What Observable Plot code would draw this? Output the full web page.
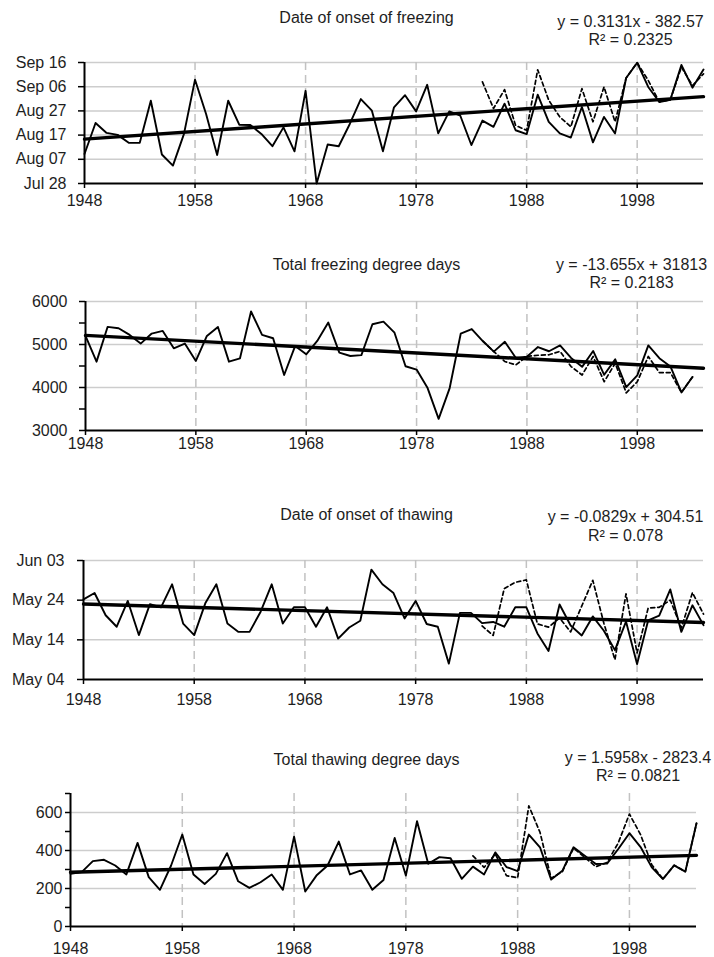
<!DOCTYPE html>
<html><head><meta charset="utf-8">
<script src="https://cdn.jsdelivr.net/npm/d3@7"></script>
<script src="https://cdn.jsdelivr.net/npm/@observablehq/plot@0.6"></script>
<style>
body{margin:0;background:#fff;}
#chart{width:714px;}
#chart svg{display:block;overflow:visible;}
</style></head><body><div id="chart"></div>
<script>
// ---------- shared x categories ----------
const firstYear = 1948;
const lastYear = 2004;
const xTickYears = [1948, 1958, 1968, 1978, 1988, 1998];

// ---------- Panel 1: Date of onset of freezing (day of year) ----------
const freezeTitle = "Date of onset of freezing";
const freezeEq = "y = 0.3131x - 382.57";
const freezeR2 = "R\u00B2 = 0.2325";
const freezeTicks = [209, 219, 229, 239, 249, 259];
const freezeTickLabels = ["Jul 28", "Aug 07", "Aug 17", "Aug 27", "Sep 06", "Sep 16"];
const freezeSolid = [221.2, 234, 229.9, 229.1, 225.8, 225.8, 243.2, 221, 216.4, 229.5,
  251.9, 237.7, 220.8, 243.2, 233.3, 233.2, 229.5, 224.4, 232.2, 222.3,
  247.3, 209, 225.1, 224.4, 233.6, 243.9, 239.1, 222.3, 240.5, 245.5,
  238.8, 249.8, 229.7, 238.8, 237, 224.9, 235, 232.4, 242, 231,
  229.4, 245.7, 234.5, 229.7, 228, 240.6, 226, 236.5, 229.7, 252.6,
  258.9, 248.9, 242.7, 243.6, 258, 248.6, 256.1];
const freezeDashedStart = 1984;
const freezeDashed = [251, 240, 247.8, 233, 231, 256, 243.4, 236.5, 232.4, 248.2,
  234.5, 248.9, 234.5, 252.6, 258.9, 251.6, 242.7, 243.6, 257.1, 249.5, 254.3];
const freezeTrend = [227.35, 244.9];

// ---------- Panel 2: Total freezing degree days ----------
const fddTitle = "Total freezing degree days";
const fddEq = "y = -13.655x + 31813";
const fddR2 = "R\u00B2 = 0.2183";
const fddTicks = [3000, 4000, 5000, 6000];
const fddMinorTicks = [3500, 4500, 5500];
const fddSolid = [5200, 4601, 5409, 5378, 5223, 5021, 5254, 5316, 4912, 5021,
  4617, 5200, 5409, 4601, 4679, 5767, 5223, 5145, 4291, 4966,
  4772, 5083, 5510, 4811, 4733, 4752, 5470, 5532, 5275, 4494,
  4416, 3987, 3270, 3987, 5251, 5360, 5080, 4835, 5062, 4686,
  4718, 4940, 4843, 4980, 4687, 4480, 4850, 4295, 4655, 4010,
  4283, 4980, 4682, 4490, 3885, 4245];
const fddDashedStart = 1984;
const fddDashed = [5080, 4835, 4604, 4526, 4722, 4750, 4761, 4840, 4487, 4291,
  4722, 4134, 4565, 3875, 4134, 4722, 4346, 4346, 3885, 4245];
const fddTrend = [5213.1, 4448.4];

// ---------- Panel 3: Date of onset of thawing (day of year) ----------
const thawTitle = "Date of onset of thawing";
const thawEq = "y = -0.0829x + 304.51";
const thawR2 = "R\u00B2 = 0.078";
const thawTicks = [124, 134, 144, 154];
const thawTickLabels = ["May 04", "May 14", "May 24", "Jun 03"];
const thawSolid = [144.2, 145.8, 140.2, 137.3, 143.8, 135.2, 143, 142.2, 148, 138.1,
  135.2, 143.2, 148, 138.1, 136, 136, 141.1, 148, 138.1, 142.2,
  142.2, 137.3, 142.2, 134.3, 137.1, 138.8, 151.7, 148, 145.8, 139.4,
  143.8, 138, 137.3, 128, 140.8, 140.8, 138.2, 138.5, 137.3, 142.2,
  142.2, 135.6, 131.2, 142.9, 137.6, 135.1, 139.9, 136.3, 131.4, 138.6,
  127.9, 138.9, 140.1, 146.7, 136, 142.7, 137.7];
const thawDashedStart = 1984;
const thawDashed = [137.5, 135.1, 146.9, 148.5, 149.1, 138, 137.2, 139.5, 136, 142.5,
  149, 138.2, 129, 145.6, 130.7, 142, 142.2, 144, 137, 145.9, 140.5];
const thawTrend = [143.02, 138.38];

// ---------- Panel 4: Total thawing degree days ----------
const tddTitle = "Total thawing degree days";
const tddEq = "y = 1.5958x - 2823.4";
const tddR2 = "R\u00B2 = 0.0821";
const tddTicks = [0, 200, 400, 600];
const tddMinorTicks = [100, 300, 500, 700];
const tddSolid = [277, 286, 344, 351, 321, 274, 440, 260, 193, 321,
  484, 274, 224, 277, 386, 238, 203, 233, 274, 193,
  473, 184, 268, 321, 447, 274, 295, 193, 245, 466,
  268, 554, 330, 365, 359, 251, 315, 274, 390, 313,
  292, 484, 417, 247, 293, 417, 372, 329, 331, 408,
  491, 418, 311, 250, 322, 289, 543];
const tddDashedStart = 1984;
const tddDashed = [372, 311, 381, 268, 256, 635, 496, 254, 289, 413,
  364, 315, 337, 440, 592, 483, 325, 250, 322, 289, 543];
const tddTrend = [285.2, 374.6];

// ---------- drawing ----------
const FONT = "'Liberation Sans', Arial, Helvetica, sans-serif";
const TEXT = "#1e1e1e";

function panel(c) {
  const solid = c.solid.map((v, i) => ({year: firstYear + i, v}));
  const dashed = c.dashed.map((v, i) => ({year: c.dashedStart + i, v}));
  const trend = [{year: firstYear, v: c.trend[0]}, {year: lastYear, v: c.trend[1]}];
  const fmt = c.labels ? (d) => c.labels[c.ticks.indexOf(d)] : (d) => String(d);
  const marks = [
    Plot.ruleY(c.ticks.filter(t => t !== c.domain[0]), {stroke: "#cdcdcd", strokeWidth: 1.5}),
    Plot.ruleX(xTickYears.slice(1), {stroke: "#c2c2c2", strokeWidth: 1.5, strokeDasharray: "8,5"}),
    Plot.axisY({ticks: c.ticks, tickFormat: fmt, tickSize: c.yTickSize, tickPadding: c.yPad,
      stroke: "#000", strokeWidth: 1.5, fill: TEXT, fontSize: 16, label: null}),
  ];
  if (c.minor) marks.push(Plot.axisY({ticks: c.minor, tickFormat: () => "", tickSize: c.yTickSize,
    stroke: "#000", strokeWidth: 1.5, label: null}));
  marks.push(
    Plot.axisX({ticks: xTickYears, tickFormat: (d) => String(d), tickSize: 5, tickPadding: c.xPad,
      stroke: "#000", strokeWidth: 1.5, fill: TEXT, fontSize: 16, label: null}),
    Plot.ruleX([firstYear], {stroke: "#000", strokeWidth: 2}),
    Plot.ruleY([c.domain[0]], {stroke: "#000", strokeWidth: 2}),
    Plot.line(dashed, {x: "year", y: "v", stroke: "#000", strokeWidth: 1.7, strokeDasharray: "4,3"}),
    Plot.line(solid, {x: "year", y: "v", stroke: "#000", strokeWidth: 1.9}),
    Plot.line(trend, {x: "year", y: "v", stroke: "#000", strokeWidth: 3.4}),
    Plot.text([c.title], {text: d => d, frameAnchor: "top-left", dx: 366 - c.ml, dy: c.titleDy,
      textAnchor: "middle", lineAnchor: "middle", fill: TEXT, fontSize: 16}),
    Plot.text([c.eq], {text: d => d, frameAnchor: "top-left", dx: c.eqX - c.ml, dy: c.eqDy,
      textAnchor: "middle", lineAnchor: "middle", fill: TEXT, fontSize: 16}),
    Plot.text([c.r2], {text: d => d, frameAnchor: "top-left", dx: c.eqX - c.ml, dy: c.r2Dy,
      textAnchor: "middle", lineAnchor: "middle", fill: TEXT, fontSize: 16})
  );
  return Plot.plot({
    width: 714, height: c.height,
    marginLeft: c.ml, marginRight: c.mr, marginTop: c.mt, marginBottom: c.mb,
    style: {fontFamily: FONT, fontSize: "16px", background: "#fff", color: TEXT},
    x: {domain: [firstYear, lastYear]},
    y: {domain: c.domain},
    marks
  });
}

const root = document.getElementById("chart");
root.append(panel({
  title: freezeTitle, eq: freezeEq, r2: freezeR2,
  solid: freezeSolid, dashed: freezeDashed, dashedStart: freezeDashedStart, trend: freezeTrend,
  ticks: freezeTicks, labels: freezeTickLabels, domain: [209, 259],
  height: 240, mt: 62, mb: 57, ml: 84, mr: 11, yTickSize: 6, yPad: 12, xPad: 6,
  titleDy: -44.7, eqX: 630, eqDy: -40.3, r2Dy: -22.7
}));
root.append(panel({
  title: fddTitle, eq: fddEq, r2: fddR2,
  solid: fddSolid, dashed: fddDashed, dashedStart: fddDashedStart, trend: fddTrend,
  ticks: fddTicks, minor: fddMinorTicks, domain: [3000, 6000],
  height: 240, mt: 61, mb: 50, ml: 85, mr: 11, yTickSize: 6, yPad: 12, xPad: 2,
  titleDy: -37, eqX: 631, eqDy: -37, r2Dy: -18.3
}));
root.append(panel({
  title: thawTitle, eq: thawEq, r2: thawR2,
  solid: thawSolid, dashed: thawDashed, dashedStart: thawDashedStart, trend: thawTrend,
  ticks: thawTicks, labels: thawTickLabels, domain: [124, 154],
  height: 250, mt: 80, mb: 51, ml: 83, mr: 11, yTickSize: 6, yPad: 13, xPad: 9,
  titleDy: -46, eqX: 625, eqDy: -43.3, r2Dy: -25
}));
root.append(panel({
  title: tddTitle, eq: tddEq, r2: tddR2,
  solid: tddSolid, dashed: tddDashed, dashedStart: tddDashedStart, trend: tddTrend,
  ticks: tddTicks, minor: tddMinorTicks, domain: [0, 700],
  height: 227, mt: 63, mb: 31, ml: 70, mr: 18, yTickSize: 5, yPad: 3, xPad: 11,
  titleDy: -33.7, eqX: 637.5, eqDy: -35.7, r2Dy: -18
}));
</script>
</body></html>
